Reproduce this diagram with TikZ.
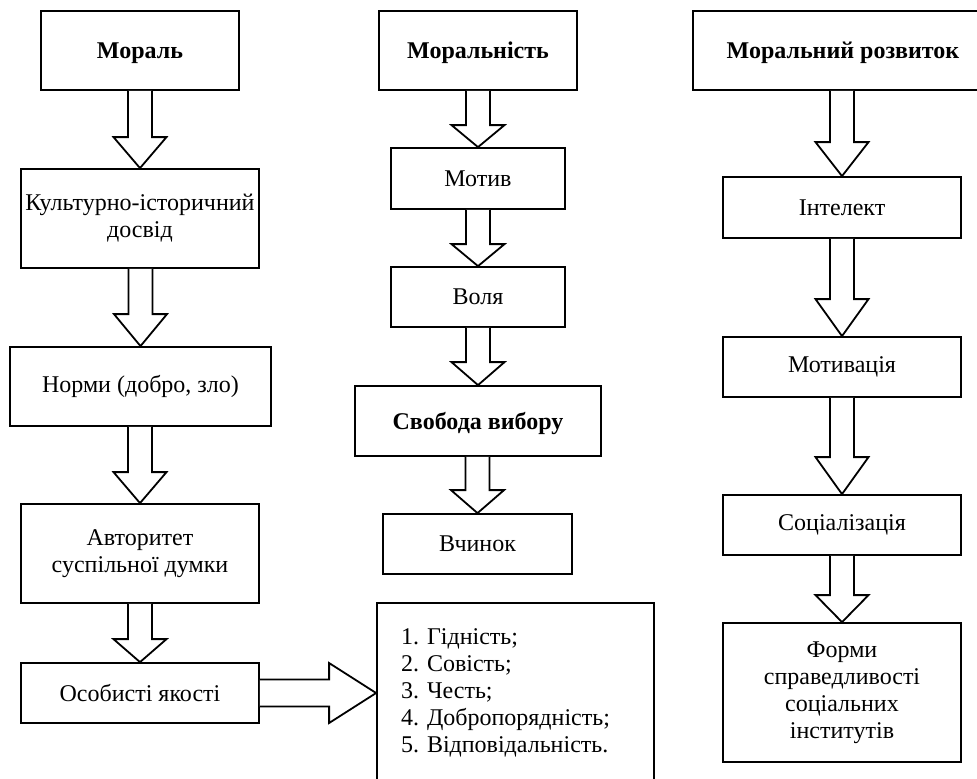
\documentclass[tikz,border=0pt]{standalone}
\usepackage{fontspec}
\setmainfont{Liberation Serif}
\usetikzlibrary{calc}
\frenchspacing

\tikzset{
  box/.style={draw, line width=0.9pt, inner sep=2pt, align=center, font=\fontsize{12}{13.5}\selectfont},
  head/.style={box, text depth=0pt, font=\fontsize{12}{13.5}\selectfont\bfseries},
  barrow/.style={draw, line width=0.9pt, fill=white, line join=miter},
}

\newcommand{\flowdown}[3]{%
  \draw[barrow] let \p1=(#1.south), \p2=(#2.north) in
    (\x2-6pt,\y1) -- (\x2-6pt,\y2+#3) -- (\x2-13.25pt,\y2+#3) -- (\x2,\y2)
    -- (\x2+13.25pt,\y2+#3) -- (\x2+6pt,\y2+#3) -- (\x2+6pt,\y1);}

\begin{document}
\begin{tikzpicture}[x=0.5pt,y=-0.5pt]
\useasboundingbox (0,0) rectangle (977,778);

\node[head, minimum width=99pt, minimum height=39.5pt] (moral) at (140,50.5) {Мораль};
\node[box, minimum width=119pt, minimum height=49.5pt] (dosvid) at (140,218.5) {Культурно-історичний\\досвід};
\node[box, minimum width=130.5pt, minimum height=39.5pt] (normy) at (140.5,386.5) {Норми (добро, зло)};
\node[box, minimum width=119pt, minimum height=49.5pt] (avtorytet) at (140,553.5) {Авторитет\\суспільної думки};
\node[box, minimum width=119pt, minimum height=30pt] (yakosti) at (140,693) {Особисті якості};

\node[head, minimum width=99pt, minimum height=39.5pt] (moralnist) at (478,50.5) {Моральність};
\node[box, minimum width=87pt, minimum height=30.5pt] (motyv) at (478,178.5) {Мотив};
\node[box, minimum width=87pt, minimum height=30pt] (volia) at (478,297) {Воля};
\node[head, minimum width=123pt, minimum height=35pt] (svoboda) at (478,421) {Свобода вибору};
\node[box, minimum width=94.5pt, minimum height=30pt] (vchynok) at (477.5,544) {Вчинок};
\node[box, minimum width=138.5pt, minimum height=90pt, align=left, text width=114.5pt, inner xsep=12pt] (spysok) at (515.5,693)
  {1. Гідність;\\2. Совість;\\3. Честь;\\4. Добропорядність;\\5. Відповідальність.};

\node[head, minimum width=150pt, minimum height=39.5pt] (rozvytok) at (843,50.5) {Моральний розвиток};
\node[box, minimum width=119pt, minimum height=30.5pt] (intelekt) at (842,207.5) {Інтелект};
\node[box, minimum width=119pt, minimum height=30pt] (motyvatsiia) at (842,367) {Мотивація};
\node[box, minimum width=119pt, minimum height=30pt] (sotsializatsiia) at (842,525) {Соціалізація};
\node[box, minimum width=119pt, minimum height=69.5pt] (formy) at (842,692.5) {Форми\\справедливості\\соціальних\\інститутів};

\flowdown{moral}{dosvid}{15.5pt}
\flowdown{dosvid}{normy}{16pt}
\flowdown{normy}{avtorytet}{15.5pt}
\flowdown{avtorytet}{yakosti}{11.5pt}
\flowdown{moralnist}{motyv}{11pt}
\flowdown{motyv}{volia}{11pt}
\flowdown{volia}{svoboda}{11.5pt}
\flowdown{svoboda}{vchynok}{11.5pt}
\flowdown{rozvytok}{intelekt}{17pt}
\flowdown{intelekt}{motyvatsiia}{18.5pt}
\flowdown{motyvatsiia}{sotsializatsiia}{18.5pt}
\flowdown{sotsializatsiia}{formy}{13.5pt}

\draw[barrow] let \p1=(yakosti.east), \p2=(spysok.west) in
  (\x1,\y2+6.75pt) -- (\x2-23.5pt,\y2+6.75pt) -- (\x2-23.5pt,\y2+15pt) -- (\x2,\y2)
  -- (\x2-23.5pt,\y2-15pt) -- (\x2-23.5pt,\y2-6.75pt) -- (\x1,\y2-6.75pt);
\end{tikzpicture}
\end{document}
